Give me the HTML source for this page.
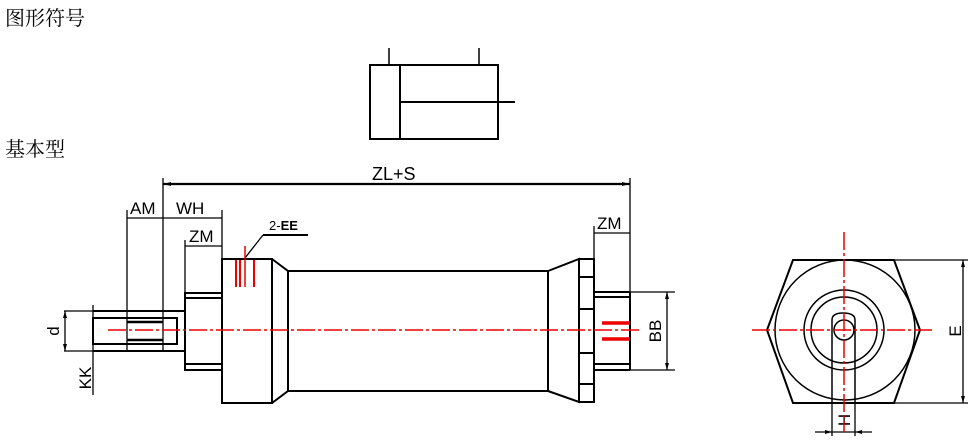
<!DOCTYPE html>
<html><head><meta charset="utf-8"><style>
html,body{margin:0;padding:0;background:#fff;width:974px;height:440px;overflow:hidden}
svg{display:block}
</style></head><body>
<svg width="974" height="440" viewBox="0 0 974 440" xmlns="http://www.w3.org/2000/svg" font-family="Liberation Sans, sans-serif">
<text x="5" y="25" font-size="20" font-family="Liberation Serif, Noto Serif CJK SC, serif">图形符号</text>
<text x="5" y="156" font-size="20" font-family="Liberation Serif, Noto Serif CJK SC, serif">基本型</text>
<g stroke="#000" fill="none" stroke-width="2">
<rect x="370" y="65" width="128" height="74"/>
<line x1="400" y1="65" x2="400" y2="139"/>
<line x1="400" y1="102" x2="515" y2="102"/>
<line x1="389" y1="48" x2="389" y2="65" stroke-width="1.5"/>
<line x1="479" y1="48" x2="479" y2="65" stroke-width="1.5"/>
</g>
<g stroke="#000" fill="none" stroke-width="1.3">
<line x1="163" y1="178" x2="163" y2="350"/>
<line x1="630" y1="178" x2="630" y2="292"/>
<line x1="127" y1="210" x2="127" y2="350"/>
<line x1="222" y1="210" x2="222" y2="259"/>
<line x1="185" y1="240" x2="185" y2="293"/>
<line x1="594" y1="226" x2="594" y2="259"/>
<line x1="64" y1="311" x2="93" y2="311"/>
<line x1="64" y1="351" x2="93" y2="351"/>
<line x1="93" y1="305" x2="93" y2="395"/>
<line x1="65" y1="311" x2="65" y2="351"/>
<line x1="630" y1="292" x2="675" y2="292"/>
<line x1="630" y1="370" x2="675" y2="370"/>
<line x1="667" y1="292" x2="667" y2="370"/>
<line x1="894" y1="260" x2="968" y2="260"/>
<line x1="894" y1="403" x2="968" y2="403"/>
<line x1="963" y1="260" x2="963" y2="403"/>
<line x1="832" y1="403" x2="832" y2="436"/>
<line x1="855" y1="403" x2="855" y2="436"/>
<line x1="815" y1="432" x2="872" y2="432"/>
<line x1="127" y1="218" x2="222" y2="218"/>
<line x1="185" y1="246" x2="222" y2="246"/>
<line x1="594" y1="233" x2="630" y2="233"/>
</g>
<line x1="163" y1="184" x2="630" y2="184" stroke="#000" stroke-width="2.2"/>
<g fill="#000">
<path d="M163 184l8-2v4z"/><path d="M630 184l-8-2v4z"/>
<path d="M65 311l-2 7h4z"/><path d="M65 351l-2-7h4z"/>
<path d="M667 292l-2 7h4z"/><path d="M667 370l-2-7h4z"/>
<path d="M963 260l-2 7h4z"/><path d="M963 403l-2-7h4z"/>
<path d="M832 432l-7-2v4z"/><path d="M855 432l7-2v4z"/>
</g>
<g font-size="17" fill="#000">
<text x="130" y="214">AM</text>
<text x="176" y="214">WH</text>
<text x="189" y="242">ZM</text>
<text x="597" y="229">ZM</text>
<text x="372" y="180" font-size="18">ZL+S</text>
<text x="269" y="230" font-size="13">2-<tspan font-weight="bold">EE</tspan></text>
<text transform="translate(59,331) rotate(-90)" text-anchor="middle">d</text>
<text transform="translate(91,378) rotate(-90)" text-anchor="middle">KK</text>
<text transform="translate(661,331) rotate(-90)" text-anchor="middle">BB</text>
<text transform="translate(961,331) rotate(-90)" text-anchor="middle">E</text>
<text transform="translate(850,420) rotate(-90)" text-anchor="middle">H</text>
</g>
<line x1="245" y1="258" x2="263" y2="235" stroke="#000" stroke-width="1.3"/>
<line x1="263" y1="235" x2="308" y2="235" stroke="#000" stroke-width="2"/>
<g stroke="#000" fill="none" stroke-width="2">
<line x1="93" y1="311" x2="185" y2="311"/>
<line x1="93" y1="351" x2="185" y2="351"/>
<rect x="93" y="318" width="84" height="26"/>
<line x1="127" y1="322" x2="163" y2="322" stroke-width="2.5"/>
<line x1="127" y1="340" x2="163" y2="340" stroke-width="2.5"/>
<rect x="185" y="293" width="37" height="77"/>
<line x1="185" y1="298" x2="222" y2="298"/>
<line x1="185" y1="364" x2="222" y2="364"/>
<rect x="222" y="259" width="50" height="144"/>
<path d="M272 259L288 271V391L272 403"/>
<rect x="288" y="271" width="260" height="120"/>
<path d="M548 271L579 259V402L548 391"/>
<rect x="579" y="259" width="15" height="143"/>
<line x1="579" y1="277" x2="594" y2="277"/><line x1="579" y1="309" x2="594" y2="309"/>
<line x1="579" y1="353" x2="594" y2="353"/><line x1="579" y1="384" x2="594" y2="384"/>
<line x1="594" y1="292" x2="630" y2="292"/><line x1="594" y1="297" x2="630" y2="297"/>
<line x1="594" y1="364" x2="630" y2="364"/><line x1="594" y1="370" x2="630" y2="370"/>
<line x1="630" y1="292" x2="630" y2="370"/>
<path d="M793 260H894L920 330L894 403H793L767 330Z"/>
<circle cx="845" cy="330" r="70" stroke-width="1.5"/>
<circle cx="844" cy="330" r="40" stroke-width="1.5"/>
<circle cx="844" cy="330" r="33" stroke-width="1.5"/>
<path d="M832 403V320Q832 313 843 313Q855 313 855 320V403" stroke-width="1.5"/>
<circle cx="844" cy="330" r="10" stroke-width="1.5"/>
</g>
<g stroke="#e00" fill="none">
<line x1="108" y1="330" x2="640" y2="330" stroke-width="1.5" stroke-dasharray="18,3,3,3"/>
<line x1="752" y1="330" x2="935" y2="330" stroke-width="1.5" stroke-dasharray="18,3,3,3"/>
<line x1="844" y1="232" x2="844" y2="432" stroke-width="1.5" stroke-dasharray="18,3,3,3"/>
<line x1="236" y1="260" x2="236" y2="287" stroke-width="2"/>
<line x1="240" y1="260" x2="240" y2="287" stroke-width="2"/>
<line x1="254" y1="260" x2="254" y2="287" stroke-width="2"/>
<line x1="245" y1="246" x2="245" y2="287" stroke-width="1.5"/>
<line x1="602" y1="323" x2="630" y2="323" stroke-width="3.5"/>
<line x1="602" y1="339" x2="630" y2="339" stroke-width="3.5"/>
</g>
</svg>
</body></html>
